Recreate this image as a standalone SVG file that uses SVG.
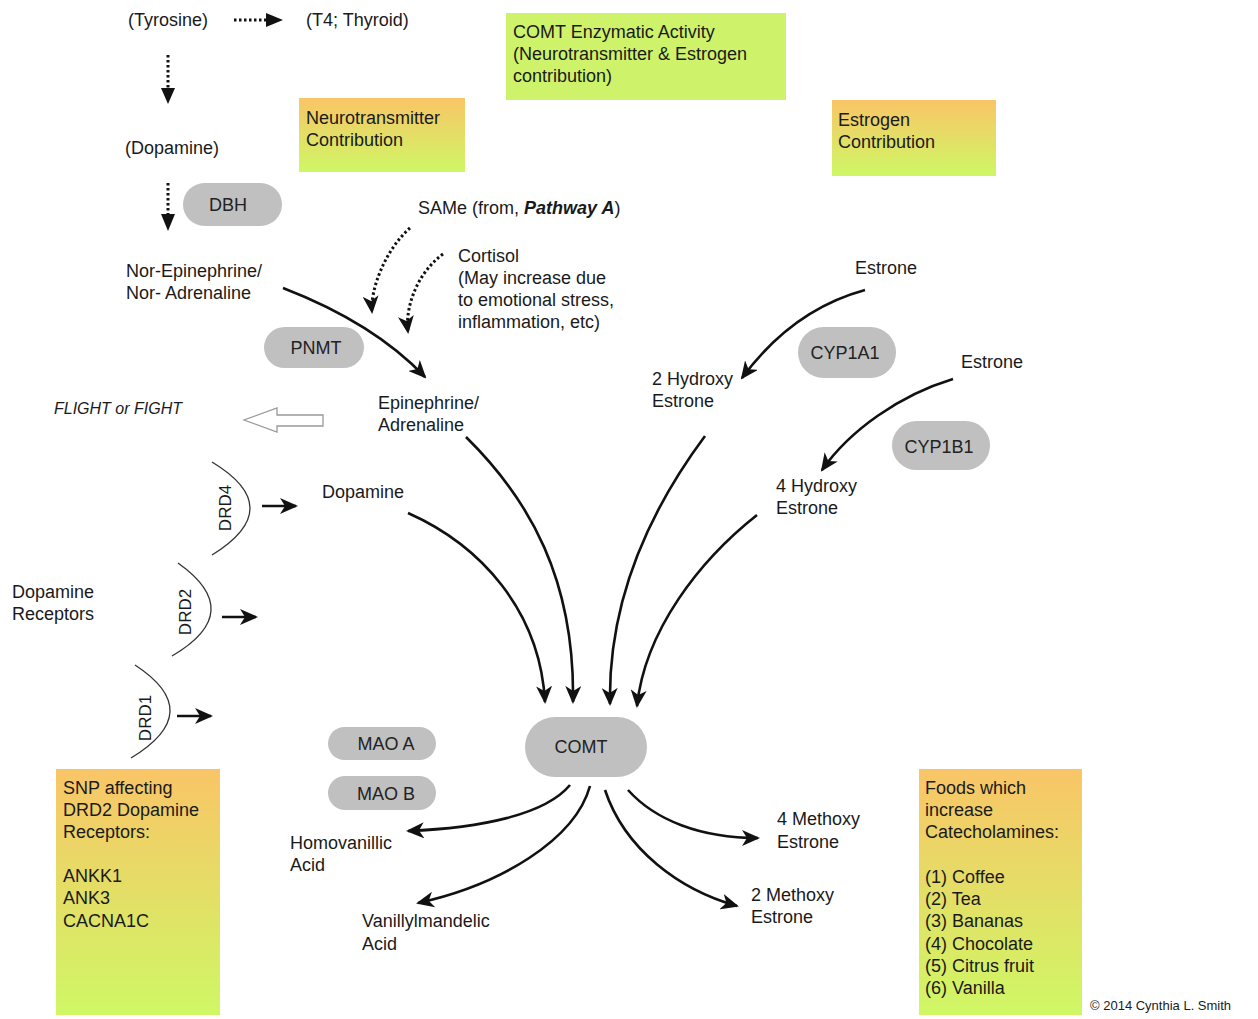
<svg xmlns="http://www.w3.org/2000/svg" width="1258" height="1019" viewBox="0 0 1258 1019">
<defs>
<style>
text{font-family:"Liberation Sans",Arial,sans-serif;font-size:18px;fill:#1a1a1a}
.pill{fill:#c0c0c0}
.pt{text-anchor:middle;fill:#222}
.sm{font-size:16px;font-style:italic}
.drd{font-size:17px;text-anchor:middle}
.cp{font-size:13px}
.con{fill:none;stroke:#111;stroke-width:2.6}
.dot{fill:none;stroke:#111;stroke-width:3;stroke-dasharray:2.5,2.5}
.arc{fill:none;stroke:#333;stroke-width:1.3}
</style>
<linearGradient id="og" x1="0" y1="0" x2="0" y2="1">
<stop offset="0" stop-color="#f9c567"/>
<stop offset="1" stop-color="#cff765"/>
</linearGradient>
<marker id="ah" markerUnits="userSpaceOnUse" markerWidth="18" markerHeight="16" refX="16" refY="8" orient="auto">
<path d="M0,0 L18,8 L0,16 L5,8 z" fill="#111"/>
</marker>
</defs>
<rect width="1258" height="1019" fill="#fff"/>

<g id="boxes">
<g id="box-neuro"><rect x="299" y="98" width="166" height="74" fill="url(#og)"/><text x="306" y="124">Neurotransmitter</text><text x="306" y="146">Contribution</text></g>
<g id="box-comt"><rect x="506" y="13" width="280" height="87" fill="#cef36b"/><text x="513" y="38">COMT Enzymatic Activity</text><text x="513" y="60">(Neurotransmitter &amp; Estrogen</text><text x="513" y="82">contribution)</text></g>
<g id="box-estrogen"><rect x="832" y="100" width="164" height="76" fill="url(#og)"/><text x="838" y="126">Estrogen</text><text x="838" y="148">Contribution</text></g>
<g id="box-snp"><rect x="56" y="769" width="164" height="246" fill="url(#og)"/><text x="63" y="794">SNP affecting</text><text x="63" y="816">DRD2 Dopamine</text><text x="63" y="838">Receptors:</text><text x="63" y="882">ANKK1</text><text x="63" y="904">ANK3</text><text x="63" y="927">CACNA1C</text></g>
<g id="box-foods"><rect x="919" y="769" width="163" height="246" fill="url(#og)"/><text x="925" y="794">Foods which</text><text x="925" y="816">increase</text><text x="925" y="838">Catecholamines:</text><text x="925" y="883">(1) Coffee</text><text x="925" y="905">(2) Tea</text><text x="925" y="927">(3) Bananas</text><text x="925" y="950">(4) Chocolate</text><text x="925" y="972">(5) Citrus fruit</text><text x="925" y="994">(6) Vanilla</text></g>
</g>

<g id="enzymes">
<g id="dbh"><rect x="183" y="183" width="99" height="43" rx="21.5" class="pill"/><text x="228" y="211" class="pt">DBH</text></g>
<g id="pnmt"><rect x="264" y="327" width="100" height="41" rx="20.5" class="pill"/><text x="316" y="354" class="pt">PNMT</text></g>
<g id="cyp1a1"><rect x="798" y="327" width="98" height="51" rx="25.5" class="pill"/><text x="845" y="359" class="pt">CYP1A1</text></g>
<g id="cyp1b1"><rect x="892" y="421" width="98" height="49" rx="24.5" class="pill"/><text x="939" y="453" class="pt">CYP1B1</text></g>
<g id="comt"><rect x="525" y="717" width="122" height="60" rx="30" class="pill"/><text x="581" y="753" class="pt">COMT</text></g>
<g id="maoa"><rect x="328" y="727" width="108" height="33" rx="16.5" class="pill"/><text x="386" y="750" class="pt">MAO A</text></g>
<g id="maob"><rect x="328" y="776" width="108" height="34" rx="17" class="pill"/><text x="386" y="800" class="pt">MAO B</text></g>
</g>

<g id="labels">
<g id="tyrosine"><text x="128" y="26">(Tyrosine)</text></g>
<g id="t4"><text x="306" y="26">(T4; Thyroid)</text></g>
<g id="dopamine-top"><text x="125" y="154">(Dopamine)</text></g>
<g id="same"><text x="418" y="214">SAMe (from, <tspan font-style="italic" font-weight="bold">Pathway A</tspan>)</text></g>
<g id="cortisol"><text x="458" y="262">Cortisol</text><text x="458" y="284">(May increase due</text><text x="458" y="306">to emotional stress,</text><text x="458" y="328">inflammation, etc)</text></g>
<g id="norepi"><text x="126" y="277">Nor-Epinephrine/</text><text x="126" y="299">Nor- Adrenaline</text></g>
<g id="flight"><text x="54" y="414" class="sm">FLIGHT or FIGHT</text></g>
<g id="epi"><text x="378" y="409">Epinephrine/</text><text x="378" y="431">Adrenaline</text></g>
<g id="estrone1"><text x="855" y="274">Estrone</text></g>
<g id="hydroxy2"><text x="652" y="385">2 Hydroxy</text><text x="652" y="407">Estrone</text></g>
<g id="estrone2"><text x="961" y="368">Estrone</text></g>
<g id="hydroxy4"><text x="776" y="492">4 Hydroxy</text><text x="776" y="514">Estrone</text></g>
<g id="dopamine"><text x="322" y="498">Dopamine</text></g>
<g id="receptors"><text x="12" y="598">Dopamine</text><text x="12" y="620">Receptors</text></g>
<g id="drd4"><path class="arc" d="M212,462 Q288,508 212,555"/><text transform="translate(231,508) rotate(-90)" class="drd">DRD4</text></g>
<g id="drd2"><path class="arc" d="M178,563 Q247,612 172,656"/><text transform="translate(191,612) rotate(-90)" class="drd">DRD2</text></g>
<g id="drd1"><path class="arc" d="M135,665 Q207,712 131,758"/><text transform="translate(151,718) rotate(-90)" class="drd">DRD1</text></g>
<g id="homovanillic"><text x="290" y="849">Homovanillic</text><text x="290" y="871">Acid</text></g>
<g id="vanillyl"><text x="362" y="927">Vanillylmandelic</text><text x="362" y="950">Acid</text></g>
<g id="methoxy4"><text x="777" y="825">4 Methoxy</text><text x="777" y="848">Estrone</text></g>
<g id="methoxy2"><text x="751" y="901">2 Methoxy</text><text x="751" y="923">Estrone</text></g>
<g id="copyright"><text x="1090" y="1010" class="cp">© 2014 Cynthia L. Smith</text></g>
</g>

<g id="connectors">
<path class="dot" d="M234,20 L266,20"/><path d="M266,13 L283,20 L266,27 z" fill="#111"/>
<path class="dot" d="M168,55 L168,90"/><path d="M161,88 L168,104 L175,88 z" fill="#111"/>
<path class="dot" d="M168,183 L168,216"/><path d="M161,214 L168,231 L175,214 z" fill="#111"/>
<path class="dot" d="M410,228 C385,250 370,290 372,312" marker-end="url(#ah)"/>
<path class="dot" d="M443,254 C415,275 405,310 408,332" marker-end="url(#ah)"/>
<path class="con" d="M283,288 C340,310 390,340 425,377" marker-end="url(#ah)"/>
<path class="con" d="M865,290 C810,305 770,340 742,378" marker-end="url(#ah)"/>
<path class="con" d="M953,379 C900,395 850,430 822,470" marker-end="url(#ah)"/>
<path class="con" d="M408,513 C480,545 540,610 545,702" marker-end="url(#ah)"/>
<path class="con" d="M466,437 C530,500 575,580 573,702" marker-end="url(#ah)"/>
<path class="con" d="M705,436 C650,510 608,600 610,704" marker-end="url(#ah)"/>
<path class="con" d="M757,515 C700,560 645,630 637,706" marker-end="url(#ah)"/>
<path class="con" d="M570,785 C545,815 480,828 408,831" marker-end="url(#ah)"/>
<path class="con" d="M590,786 C575,840 500,885 418,903" marker-end="url(#ah)"/>
<path class="con" d="M605,790 C625,850 680,890 737,906" marker-end="url(#ah)"/>
<path class="con" d="M628,790 C655,820 700,838 758,838" marker-end="url(#ah)"/>
<path class="con" d="M262,506 L296,506" marker-end="url(#ah)"/>
<path class="con" d="M222,617 L256,617" marker-end="url(#ah)"/>
<path class="con" d="M177,716 L211,716" marker-end="url(#ah)"/>
<path d="M323,415 L277,415 L277,408 L244,420 L277,432 L277,426 L323,426 z" fill="#fff" stroke="#999" stroke-width="1.3"/>
</g>
</svg>
